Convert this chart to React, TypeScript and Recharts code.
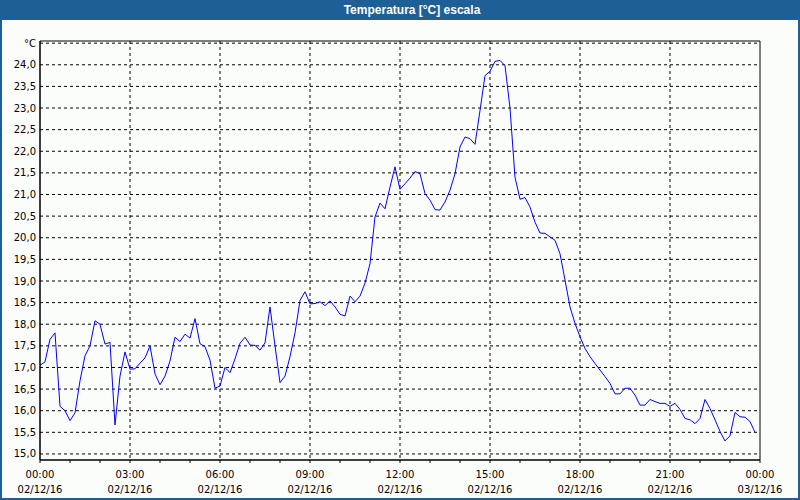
import { CartesianGrid, Line, LineChart, ReferenceArea, XAxis, YAxis } from "recharts";

// readings every 10 minutes, 00:00 .. 23:50 on 02/12/16
const minutes = Array.from({ length: 144 }, (_, i) => i * 10);
const temperature = [
  17.05, 17.13, 17.65, 17.8, 16.1, 16.0, 15.77, 15.95, 16.69, 17.27,
  17.5, 18.08, 18.0, 17.54, 17.58, 15.67, 16.8, 17.36, 16.96, 16.97,
  17.1, 17.22, 17.5, 16.85, 16.6, 16.8, 17.15, 17.7, 17.6, 17.77,
  17.68, 18.13, 17.55, 17.48, 17.17, 16.52, 16.57, 17.0, 16.88, 17.2,
  17.56, 17.7, 17.52, 17.51, 17.4, 17.57, 18.4, 17.5, 16.65, 16.8,
  17.25, 17.8, 18.55, 18.75, 18.47, 18.48, 18.52, 18.43, 18.54, 18.4,
  18.23, 18.19, 18.65, 18.52, 18.65, 18.95, 19.4, 20.48, 20.8, 20.67,
  21.17, 21.64, 21.12, 21.25, 21.38, 21.53, 21.48, 21.02, 20.87, 20.65,
  20.64, 20.83, 21.1, 21.48, 22.1, 22.33, 22.29, 22.16, 22.94, 23.75,
  23.85, 24.08, 24.1, 23.98, 23.0, 21.4, 20.89, 20.93, 20.71, 20.36,
  20.11, 20.1, 20.02, 19.94, 19.63, 19.02, 18.4, 18.02, 17.71, 17.44,
  17.25, 17.09, 16.94, 16.79, 16.63, 16.39, 16.39, 16.52, 16.52, 16.36,
  16.13, 16.13, 16.26, 16.21, 16.17, 16.17, 16.1, 16.17, 16.03, 15.82,
  15.79, 15.7, 15.82, 16.26, 16.05, 15.79, 15.52, 15.3, 15.42, 15.96,
  15.86, 15.85, 15.75, 15.5,
];

const yTicks = [15, 15.5, 16, 16.5, 17, 17.5, 18, 18.5, 19, 19.5, 20, 20.5, 21, 21.5, 22, 22.5, 23, 23.5, 24, 24.5];
const hourTicks = Array.from({ length: 25 }, (_, i) => i * 60);
const labelMinutes = [0, 180, 360, 540, 720, 900, 1080, 1260, 1440];
const timeLabels = ["00:00", "03:00", "06:00", "09:00", "12:00", "15:00", "18:00", "21:00", "00:00"];
const dateLabels = ["02/12/16", "02/12/16", "02/12/16", "02/12/16", "02/12/16", "02/12/16", "02/12/16", "02/12/16", "03/12/16"];
const gridMinutes = [180, 360, 540, 720, 900, 1080, 1260];

const Y_MIN = 14.86;
const Y_MAX = 24.55;
const FONT = "'DejaVu Sans', sans-serif";

const data = minutes.map((m, i) => ({ m, t: temperature[i] }));

function TimeTick({ x, y, payload }: any) {
  const idx = labelMinutes.indexOf(payload.value);
  if (idx < 0) return null;
  return (
    <text x={x} y={y} textAnchor="middle" fontSize={10} fontFamily={FONT} fill="#000">
      <tspan x={x} dy={13}>{timeLabels[idx]}</tspan>
      <tspan x={x} dy={15}>{dateLabels[idx]}</tspan>
    </text>
  );
}

export default function App() {
  return (
    <div
      style={{
        position: "absolute",
        left: 0,
        top: 0,
        width: 800,
        height: 500,
        background: "#fbfdfb",
        overflow: "hidden",
      }}
    >
      <div
        style={{
          position: "absolute",
          left: 0,
          top: 0,
          width: 800,
          height: 20,
          background: "#1e6095",
          color: "#fff",
          fontFamily: "'Liberation Sans', Arial, sans-serif",
          fontWeight: "bold",
          fontSize: 12,
          lineHeight: "20px",
          textAlign: "center",
          paddingLeft: 24,
          boxSizing: "border-box",
        }}
      >
        Temperatura [°C] escala
      </div>
      <div style={{ position: "absolute", left: 0, top: 0 }}>
        <LineChart
          width={800}
          height={500}
          data={data}
          margin={{ top: 41, right: 40, left: 0, bottom: 4 }}
        >
          <CartesianGrid
            stroke="#000"
            strokeDasharray="3 3"
            horizontalValues={yTicks}
            verticalValues={gridMinutes}
          />
          <XAxis
            dataKey="m"
            type="number"
            domain={[0, 1440]}
            ticks={hourTicks}
            interval={0}
            tick={<TimeTick />}
            tickSize={3}
            tickMargin={2}
            tickLine={{ stroke: "#000" }}
            axisLine={{ stroke: "#000" }}
            height={36}
          />
          <YAxis
            type="number"
            domain={[Y_MIN, Y_MAX]}
            ticks={yTicks}
            interval={0}
            allowDataOverflow
            width={40}
            tickSize={0}
            tickMargin={4}
            axisLine={{ stroke: "#000" }}
            tick={{ fontSize: 10, fontFamily: FONT, fill: "#000" }}
            tickFormatter={(v: number) => (v === 24.5 ? "°C" : v.toFixed(1).replace(".", ","))}
          />
          <ReferenceArea
            x1={0}
            x2={1440}
            y1={Y_MIN}
            y2={Y_MAX}
            fill="none"
            stroke="#000"
            strokeWidth={1}
          />
          <Line
            type="linear"
            dataKey="t"
            stroke="#0000ff"
            strokeWidth={1}
            dot={false}
            isAnimationActive={false}
          />
        </LineChart>
      </div>
      <div
        style={{
          position: "absolute",
          left: 0,
          top: 0,
          width: 800,
          height: 500,
          border: "2px solid #1e6095",
          boxSizing: "border-box",
          pointerEvents: "none",
        }}
      />
    </div>
  );
}
